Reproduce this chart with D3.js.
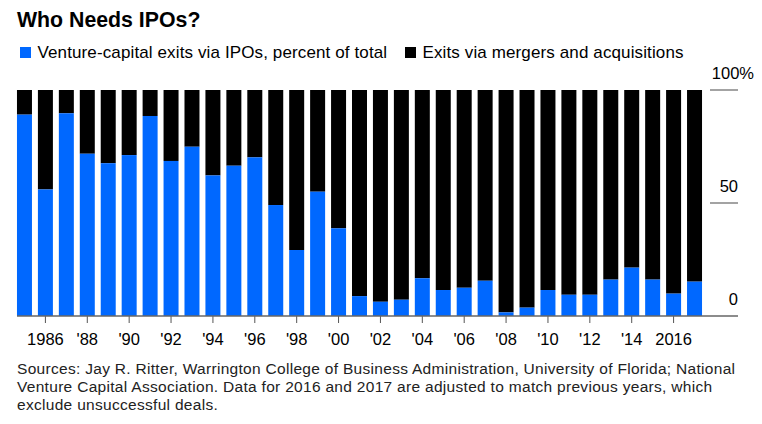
<!DOCTYPE html>
<html>
<head>
<meta charset="utf-8">
<script src="https://cdn.jsdelivr.net/npm/d3@7"></script>
<style>
  html, body { margin: 0; padding: 0; background: #fff; }
  svg { display: block; font-family: "Liberation Sans", Arial, sans-serif; }
</style>
</head>
<body>
<svg id="chart" width="762" height="424"></svg>
<script>
const years = d3.range(1985, 2018);
const ipoShare = [89.1, 56.0, 89.7, 71.8, 67.6, 71.2, 88.5, 68.6, 74.9, 62.2,
                  66.5, 70.2, 49.1, 29.2, 55.0, 38.8, 8.8, 6.3, 7.2, 16.7,
                  11.5, 12.5, 15.6, 1.6, 3.7, 11.5, 9.4, 9.4, 16.1, 21.4,
                  16.1, 9.9, 15.2];
const maShare = ipoShare.map(v => 100 - v);
const tickYears = [1986, 1988, 1990, 1992, 1994, 1996, 1998, 2000, 2002, 2004, 2006, 2008, 2010, 2012, 2014, 2016];
const tickLabels = ["1986", "'88", "'90", "'92", "'94", "'96", "'98", "'00", "'02", "'04", "'06", "'08", "'10", "'12", "'14", "2016"];
const yTicks = [0, 50, 100];
const yTickLabels = ["0", "50", "100%"];
const title = "Who Needs IPOs?";
const legendLabels = ["Venture-capital exits via IPOs, percent of total", "Exits via mergers and acquisitions"];
const sourceLines = [
  "Sources: Jay R. Ritter, Warrington College of Business Administration, University of Florida; National",
  "Venture Capital Association. Data for 2016 and 2017 are adjusted to match previous years, which",
  "exclude unsuccessful deals."
];

const BLUE = "#0068ff";
const svg = d3.select("#chart");

const x = d3.scaleBand().domain(years).range([14, 705]).paddingInner(0.284).paddingOuter(0.142);
const y = d3.scaleLinear().domain([0, 100]).range([316, 90]);

// title
svg.append("text").attr("x", 17).attr("y", 27)
  .attr("font-size", 21.3).attr("font-weight", "bold").attr("fill", "#000").text(title);

// legend
const leg = [{x: 20, c: BLUE, t: legendLabels[0]}, {x: 405, c: "#000", t: legendLabels[1]}];
leg.forEach(l => {
  svg.append("rect").attr("x", l.x).attr("y", 47).attr("width", 11).attr("height", 11).attr("fill", l.c);
  svg.append("text").attr("x", l.x + 17.5).attr("y", 58).attr("font-size", 17)
    .attr("letter-spacing", 0.12).attr("fill", "#000").text(l.t);
});

// bars
const g = svg.append("g");
g.selectAll("rect.ma").data(years).join("rect").attr("class", "ma")
  .attr("x", d => x(d)).attr("width", x.bandwidth())
  .attr("y", y(100)).attr("height", (d, i) => y(ipoShare[i]) - y(100))
  .attr("fill", "#000");
g.selectAll("rect.ipo").data(years).join("rect").attr("class", "ipo")
  .attr("x", d => x(d)).attr("width", x.bandwidth())
  .attr("y", (d, i) => y(ipoShare[i])).attr("height", (d, i) => y(0) - y(ipoShare[i]))
  .attr("fill", BLUE);

// y gridline stubs and labels
yTicks.forEach((t, i) => {
  if (t > 0) {
    svg.append("line").attr("x1", 710).attr("x2", 738).attr("y1", y(t)).attr("y2", y(t))
      .attr("stroke", "#666").attr("stroke-width", 1.2);
  }
  svg.append("text").attr("x", t === 100 ? 754 : 738).attr("y", y(t) - 11)
    .attr("text-anchor", "end").attr("font-size", 16.5).attr("fill", "#000").text(yTickLabels[i]);
});

// x axis
const xAxis = d3.axisBottom(x).tickValues(tickYears)
  .tickFormat(d => tickLabels[tickYears.indexOf(d)]).tickSize(7).tickSizeOuter(0).tickPadding(10.5);
const ax = svg.append("g").attr("transform", `translate(0,${y(0)})`).call(xAxis);
ax.select(".domain").remove();
ax.selectAll(".tick line").attr("stroke", "#555");
ax.selectAll(".tick text").attr("font-size", 16.5).attr("fill", "#000")
  .attr("font-family", "'Liberation Sans', Arial, sans-serif");
svg.append("line").attr("x1", 17).attr("x2", 738).attr("y1", y(0)).attr("y2", y(0))
  .attr("stroke", "#666").attr("stroke-width", 1.5);

// sources
sourceLines.forEach((s, i) => {
  svg.append("text").attr("x", 17).attr("y", 374 + i * 18)
    .attr("font-size", 15.5).attr("letter-spacing", 0.3).attr("fill", "#222").text(s);
});
</script>
</body>
</html>
